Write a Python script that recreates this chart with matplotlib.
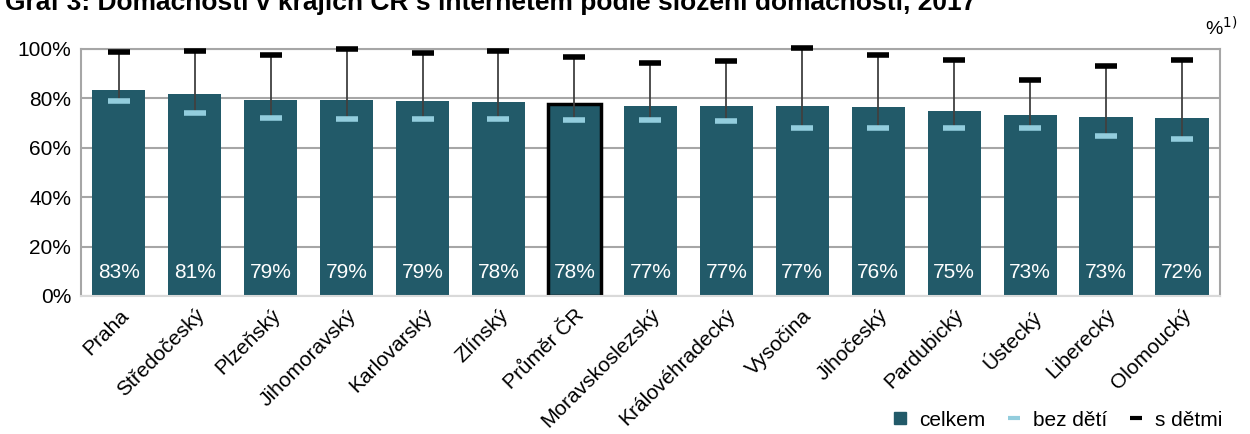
## Domacnosti v krajich CR s internetem podle slozeni domacnosti

import numpy as np
import matplotlib.pyplot as plt
from matplotlib.lines import Line2D

regions = ['Praha', 'Středočeský', 'Plzeňský', 'Jihomoravský', 'Karlovarský',
           'Zlínský', 'Průměr ČR', 'Moravskoslezský', 'Královéhradecký',
           'Vysočina', 'Jihočeský', 'Pardubický', 'Ústecký', 'Liberecký',
           'Olomoucký']
celkem = [83.2, 81.5, 79.4, 79.3, 78.9, 78.3, 77.6, 77.0, 76.6, 76.6,
          76.2, 74.8, 73.1, 72.5, 72.1]
celkem_lbl = [83, 81, 79, 79, 79, 78, 78, 77, 77, 77, 76, 75, 73, 73, 72]
bez_deti = [78.7, 73.9, 71.9, 71.4, 71.4, 71.4, 71.0, 71.0, 70.6, 67.8,
            67.8, 67.8, 67.8, 64.6, 63.4]
s_detmi = [98.5, 99.2, 97.3, 99.8, 98.1, 98.9, 96.5, 94.1, 94.9, 100.2,
           97.3, 95.3, 87.2, 92.9, 95.3]

plt.rcParams['font.family'] = ['Liberation Sans', 'DejaVu Sans']

bar_col = '#225A69'
light_col = '#93CDDD'
grid_col = '#A6A6A6'

fig = plt.figure(figsize=(12.5, 4.34), dpi=100)
fig.patch.set_facecolor('white')
ax = fig.add_axes([0.0646, 0.318, 0.9114, 0.570])

x = np.arange(len(regions))
bars = ax.bar(x, celkem, width=0.70, color=bar_col, zorder=2)
# highlight the national average
avg = regions.index('Průměr ČR')
bars[avg].set_edgecolor('black')
bars[avg].set_linewidth(2.5)

# high-low line between bez detí and s detmi
ax.vlines(x, bez_deti, s_detmi, color='#404040', lw=1.3, zorder=3)
ax.plot(x, bez_deti, ls='none', marker='_', ms=16, mew=4, color=light_col,
        zorder=4, clip_on=False)
ax.plot(x, s_detmi, ls='none', marker='_', ms=16, mew=4, color='black',
        zorder=4, clip_on=False)

for xi, v in zip(x, celkem_lbl):
    ax.text(xi, 9.5, f'{v}%', color='white', ha='center', va='center',
            fontsize=15, zorder=5)

ax.set_xlim(-0.5, len(regions) - 0.5)
ax.set_ylim(0, 100)
ax.set_yticks(np.arange(0, 101, 20))
ax.set_yticklabels([f'{v}%' for v in range(0, 101, 20)], fontsize=15)
ax.set_xticks(x)
ax.set_xticklabels(regions, rotation=45, ha='right', rotation_mode='anchor',
                   fontsize=15)
ax.tick_params(length=0, pad=7)
ax.yaxis.grid(True, color=grid_col, lw=1.5, zorder=0)
ax.set_axisbelow(True)
for s in ['left', 'right', 'top']:
    ax.spines[s].set_color(grid_col)
    ax.spines[s].set_linewidth(1.5)
ax.spines['bottom'].set_color('#D9D9D9')
ax.spines['bottom'].set_linewidth(1.5)

fig.text(0.004, 1 - 10 / 434,
         'Graf 3: Domácnosti v krajích ČR s internetem podle složení domácnosti, 2017',
         fontsize=19, fontweight='bold', va='baseline', ha='left')
fig.text(0.99, 0.935, '%$^{1)}$', fontsize=14, ha='right', va='center')

handles = [
    Line2D([], [], ls='none', marker='s', ms=8, color=bar_col),
    Line2D([], [], ls='none', marker='_', ms=8, mew=3, color=light_col),
    Line2D([], [], ls='none', marker='_', ms=8, mew=3, color='black'),
]
fig.legend(handles, ['celkem', 'bez dětí', 's dětmi'], loc='lower right',
           bbox_to_anchor=(0.993, -0.033), ncol=3, frameon=False, fontsize=15,
           handlelength=0.8, handletextpad=0.5, columnspacing=1.0)

fig.savefig('out.png', dpi=100, facecolor='white')
